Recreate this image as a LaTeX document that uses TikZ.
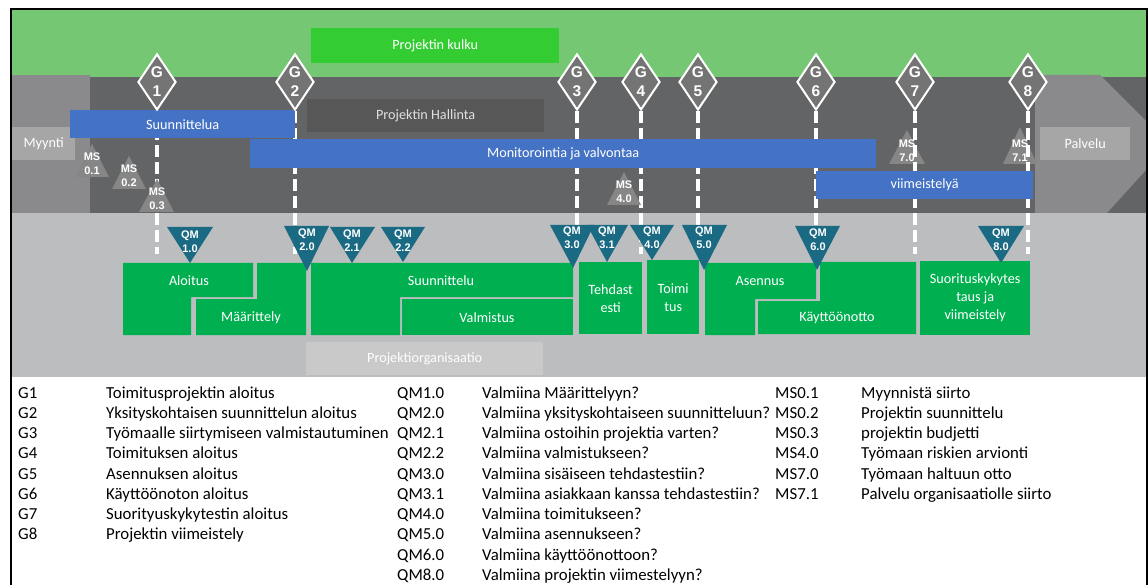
\documentclass[tikz,border=0pt]{standalone}
\usepackage{fontspec}
\setmainfont{Carlito}
\newfontfamily\arialfont{Liberation Sans}
\usepackage{tikz}
\usepackage{xcolor}
\usetikzlibrary{shapes.geometric}

\definecolor{flowgreen}{HTML}{76C773}
\definecolor{kulkugreen}{HTML}{33CC33}
\definecolor{darkband}{HTML}{636466}
\definecolor{sideband}{HTML}{8A8A8C}
\definecolor{lowband}{HTML}{BCBDBF}
\definecolor{sidebox}{HTML}{A6A6A6}
\definecolor{hallinta}{HTML}{575757}
\definecolor{barblue}{HTML}{4472C4}
\definecolor{gategray}{HTML}{747474}
\definecolor{msgray}{HTML}{868687}
\definecolor{qmteal}{HTML}{1A6A84}
\definecolor{phasegreen}{HTML}{00B050}
\definecolor{orgbox}{HTML}{C9C9C9}

\begin{document}
\begin{tikzpicture}[x=1pt, y=-1pt,
    label/.style={text=white, font=\fontsize{14.2}{18}\selectfont, inner sep=0pt, align=center},
    bar/.style={label, anchor=north west, fill=barblue},
    phase/.style={label, anchor=north west, fill=phasegreen},
    gate/.style={diamond, draw=white, line width=2pt, fill=gategray, text=white, aspect=0.68,
        minimum width=38pt, minimum height=56pt, inner sep=0pt, align=center,
        font=\arialfont\bfseries\fontsize{15.5}{19}\selectfont, anchor=south},
    gateline/.style={draw=white, line width=3.5pt, dash pattern=on 12pt off 5pt},
    mstext/.style={text=white, inner sep=0pt, align=center, font=\arialfont\bfseries\fontsize{11}{14}\selectfont},
    qmtext/.style={mstext},
    legend/.style={anchor=base west, inner sep=0pt, font=\fontsize{16.8}{20}\selectfont}]

    \useasboundingbox (0,0) rectangle (1148,585);

    % bands
    \fill[flowgreen] (12,10) rectangle (1146,77);
    \fill[darkband] (12,77) rectangle (1146,213);
    \fill[lowband] (12,213) rectangle (1146,377);
    \fill[sideband] (12,75) rectangle (90,213);
    \fill[sideband] (1035,75) -- (1100,75) -- (1146,121) -- (1146,170) -- (1107,213) -- (1035,213) -- cycle;
    \draw[line width=2pt] (11,585) -- (11,9) -- (1146.5,9) -- (1146.5,585);

    \node[label, anchor=north west, fill=sidebox, minimum width=63pt, minimum height=33pt] (myynti) at (12,127) {Myynti};
    \node[label, anchor=north west, fill=sidebox, minimum width=90pt, minimum height=33pt] (palvelu) at (1040,127) {Palvelu};

    % milestones under the gate lines
    \fill[msgray] (907,130) -- (889,164) -- (925,164) -- cycle;
    \node[mstext] (ms70) at (907,151) {MS\\7.0};
    \fill[msgray] (1020,127) -- (1003,164) -- (1037,164) -- cycle;
    \node[mstext] (ms71) at (1020,151) {MS\\7.1};

    % gate lines
    \coordinate (g1top) at (157,111);  \coordinate (g1end) at (157,254);
    \coordinate (g2top) at (295,111);  \coordinate (g2end) at (295,254);
    \coordinate (g3top) at (577,111);  \coordinate (g3end) at (577,254);
    \coordinate (g4top) at (641,111);  \coordinate (g4end) at (641,254);
    \coordinate (g5top) at (698,111);  \coordinate (g5end) at (698,254);
    \coordinate (g6top) at (816,111);  \coordinate (g6end) at (816,254);
    \coordinate (g7top) at (915,111);  \coordinate (g7end) at (915,254);
    \coordinate (g8top) at (1028,111); \coordinate (g8end) at (1028,254);
    \draw[gateline] (g1top) -- (g1end);
    \draw[gateline] (g2top) -- (g2end);
    \draw[gateline] (g3top) -- (g3end);
    \draw[gateline] (g4top) -- (g4end);
    \draw[gateline] (g5top) -- (g5end);
    \draw[gateline] (g6top) -- (g6end);
    \draw[gateline] (g7top) -- (g7end);
    \draw[gateline] (g8top) -- (g8end);

    % bars
    \node[label, anchor=north west, fill=kulkugreen, minimum width=248pt, minimum height=35pt] (kulku) at (311,28) {Projektin kulku};
    \node[label, anchor=north west, fill=hallinta, text=white!88!black, minimum width=237pt, minimum height=33pt] (hallinta) at (307,99) {Projektin Hallinta};
    \node[bar, minimum width=225pt, minimum height=28pt] (suunnittelua) at (70,110) {Suunnittelua};
    \node[bar, minimum width=626pt, minimum height=29pt] (monitorointi) at (250,139) {Monitorointia ja valvontaa};
    \node[bar, minimum width=217pt, minimum height=28pt] (viimeistely) at (816,171) {viimeistelyä};

    % milestones
    \fill[msgray] (92,144) -- (75,177) -- (109,177) -- cycle;
    \node[mstext] (ms01) at (92,164) {MS\\0.1};
    \fill[msgray] (129,156) -- (112,189) -- (146,189) -- cycle;
    \node[mstext] (ms02) at (129,176) {MS\\0.2};
    \fill[msgray] (157,179) -- (139,212) -- (174,212) -- cycle;
    \node[mstext] (ms03) at (157,199) {MS\\0.3};
    \fill[msgray] (624,172) -- (607,205) -- (641,205) -- cycle;
    \node[mstext] (ms40) at (624,192) {MS\\4.0};

    % gates
    \node[gate] (g1) at (g1top) {G\\1};
    \node[gate] (g2) at (g2top) {G\\2};
    \node[gate] (g3) at (g3top) {G\\3};
    \node[gate] (g4) at (g4top) {G\\4};
    \node[gate] (g5) at (g5top) {G\\5};
    \node[gate] (g6) at (g6top) {G\\6};
    \node[gate] (g7) at (g7top) {G\\7};
    \node[gate] (g8) at (g8top) {G\\8};

    % phases
    \fill[phasegreen] (123,263) -- (253,263) -- (253,297) -- (191,297) -- (191,335) -- (123,335) -- cycle;
    \node[label] (aloitus) at (189,281) {Aloitus};
    \fill[phasegreen] (257,263) -- (306,263) -- (306,335) -- (196,335) -- (196,299) -- (257,299) -- cycle;
    \node[label] (maarittely) at (251,318) {Määrittely};
    \fill[phasegreen] (311,263) -- (573,263) -- (573,297) -- (400,297) -- (400,335) -- (311,335) -- cycle;
    \node[label] (suunnittelu) at (441,281) {Suunnittelu};
    \fill[phasegreen] (402,299) rectangle (573,335);
    \node[label] (valmistus) at (487,318) {Valmistus};
    \node[phase, minimum width=63pt, minimum height=72pt] (tehdastesti) at (579,262) {Tehdast\\esti};
    \node[phase, minimum width=52pt, minimum height=74pt] (toimitus) at (647,260) {Toimi\\tus};
    \fill[phasegreen] (705,263) -- (816,263) -- (816,299) -- (755,299) -- (755,335) -- (705,335) -- cycle;
    \node[label] (asennus) at (760,281) {Asennus};
    \fill[phasegreen] (820,262) -- (916,262) -- (916,334) -- (758,334) -- (758,301) -- (820,301) -- cycle;
    \node[label] (kayttoonotto) at (837,318) {Käyttöönotto};
    \node[phase, minimum width=110pt, minimum height=74pt] (suoritus) at (920,261) {Suorituskykytes\\taus ja\\viimeistely};

    \node[label, anchor=north west, fill=orgbox, minimum width=237pt, minimum height=33pt] (organisaatio) at (306,342) {Projektiorganisaatio};

    % quality milestones
    \fill[qmteal] (167,227) -- (213,227) -- (190,263) -- cycle;
    \node[qmtext] (qm10) at (190,242) {QM\\1.0};
    \fill[qmteal] (284,226) -- (329,226) -- (307,271) -- cycle;
    \node[qmtext] (qm20) at (307,240) {QM\\2.0};
    \fill[qmteal] (330,227) -- (375,227) -- (352,263) -- cycle;
    \node[qmtext] (qm21) at (352,241) {QM\\2.1};
    \fill[qmteal] (381,227) -- (425,227) -- (403,262) -- cycle;
    \node[qmtext] (qm22) at (403,241) {QM\\2.2};
    \fill[qmteal] (550,225) -- (594,225) -- (573,268) -- cycle;
    \node[qmtext] (qm30) at (572,238) {QM\\3.0};
    \fill[qmteal] (587,225) -- (628,225) -- (607,262) -- cycle;
    \node[qmtext] (qm31) at (607,238) {QM\\3.1};
    \fill[qmteal] (630,225) -- (674,225) -- (652,260) -- cycle;
    \node[qmtext] (qm40) at (652,238) {QM\\4.0};
    \fill[qmteal] (682,225) -- (727,225) -- (704,270) -- cycle;
    \node[qmtext] (qm50) at (704,238) {QM\\5.0};
    \fill[qmteal] (795,226) -- (840,226) -- (817,270) -- cycle;
    \node[qmtext] (qm60) at (818,240) {QM\\6.0};
    \fill[qmteal] (978,226) -- (1024,226) -- (1001,263) -- cycle;
    \node[qmtext] (qm80) at (1001,240) {QM\\8.0};

    % legend
    \foreach \lab/\txt [count=\i] in {G1/Toimitusprojektin aloitus, G2/Yksityskohtaisen suunnittelun aloitus,
        G3/Työmaalle siirtymiseen valmistautuminen, G4/Toimituksen aloitus, G5/Asennuksen aloitus,
        G6/Käyttöönoton aloitus, G7/Suorityuskykytestin aloitus, G8/Projektin viimeistely} {
      \node[legend] (gl\i) at ({18},{398+20.25*(\i-1)}) {\lab};
      \node[legend] (gt\i) at ({106},{398+20.25*(\i-1)}) {\txt};
    }
    \foreach \lab/\txt [count=\i] in {QM1.0/Valmiina Määrittelyyn?, QM2.0/Valmiina yksityskohtaiseen suunnitteluun?,
        QM2.1/Valmiina ostoihin projektia varten?, QM2.2/Valmiina valmistukseen?,
        QM3.0/Valmiina sisäiseen tehdastestiin?, QM3.1/Valmiina asiakkaan kanssa tehdastestiin?,
        QM4.0/Valmiina toimitukseen?, QM5.0/Valmiina asennukseen?, QM6.0/Valmiina käyttöönottoon?,
        QM8.0/Valmiina projektin viimestelyyn?} {
      \node[legend] (ql\i) at ({397},{398+20.25*(\i-1)}) {\lab};
      \node[legend] (qt\i) at ({482},{398+20.25*(\i-1)}) {\txt};
    }
    \foreach \lab/\txt [count=\i] in {MS0.1/Myynnistä siirto, MS0.2/Projektin suunnittelu,
        MS0.3/projektin budjetti, MS4.0/Työmaan riskien arvionti, MS7.0/Työmaan haltuun otto,
        MS7.1/Palvelu organisaatiolle siirto} {
      \node[legend] (ml\i) at ({775},{398+20.25*(\i-1)}) {\lab};
      \node[legend] (mt\i) at ({861},{398+20.25*(\i-1)}) {\txt};
    }

\end{tikzpicture}
\end{document}
